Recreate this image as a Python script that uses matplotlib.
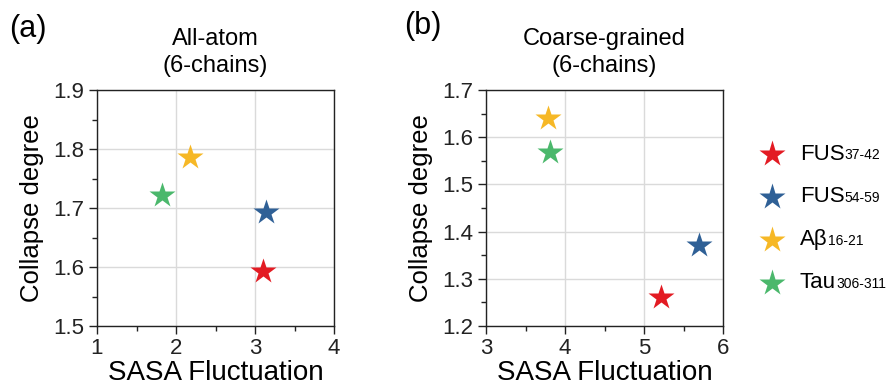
#!/usr/bin/env python3
# -*- coding: utf-8 -*-
"""
Collapse degree against SASA fluctuation for all-atom and
coarse-grained 6-chain simulations.
"""

import matplotlib.pyplot as plt
from matplotlib.ticker import MultipleLocator

plt.rcParams["font.family"] = ["Liberation Sans", "DejaVu Sans"]

peptides = ["FUS", "FUS", "A\u03b2", "Tau"]
residues = ["37-42", "54-59", "16-21", "306-311"]
colours = ["#e31b23", "#2f6096", "#f6b826", "#4bb86c"]

# All-atom values
aa_sasa = [3.10, 3.14, 2.18, 1.82]
aa_collapse = [1.593, 1.693, 1.786, 1.722]

# Coarse-grained values
cg_sasa = [5.22, 5.70, 3.78, 3.81]
cg_collapse = [1.262, 1.372, 1.640, 1.569]

panels = [
    ("(a)", "All-atom\n(6-chains)", aa_sasa, aa_collapse, (1, 4), (1.5, 1.9)),
    ("(b)", "Coarse-grained\n(6-chains)", cg_sasa, cg_collapse, (3, 6), (1.2, 1.7)),
]

W, H = 890, 390
fig = plt.figure(figsize=(W / 100, H / 100), dpi=100)
lefts = [97, 486]
tag_pos = [(28, 29), (423, 26)]

for left, tpos, (tag, title, x, y, xlim, ylim) in zip(lefts, tag_pos, panels):
    ax = fig.add_axes([left / W, 1 - 326 / H, 237 / W, 236 / H])
    ax.grid(True, color="#dadada", lw=1.0, zorder=0)
    ax.set_axisbelow(True)
    for xi, yi, c in zip(x, y, colours):
        ax.plot(xi, yi, marker="*", ms=19, color=c, mec="none", zorder=3)

    ax.set_xlim(xlim)
    ax.set_ylim(ylim)
    ax.xaxis.set_major_locator(MultipleLocator(1))
    ax.xaxis.set_minor_locator(MultipleLocator(0.5))
    ax.yaxis.set_major_locator(MultipleLocator(0.1))
    ax.yaxis.set_minor_locator(MultipleLocator(0.05))
    ax.tick_params(which="major", length=6, width=1, labelsize=16,
                   colors="#222222", pad=3)
    ax.tick_params(which="minor", length=3.5, width=1, colors="#222222")
    ax.xaxis.set_major_formatter(plt.FuncFormatter(lambda v, p: "%d" % v))
    ax.yaxis.set_major_formatter(plt.FuncFormatter(lambda v, p: "%.1f" % v))
    for sp in ax.spines.values():
        sp.set_linewidth(1.0)
        sp.set_color("#222222")

    ax.set_xlabel("SASA Fluctuation", fontsize=20, labelpad=0)
    ax.set_ylabel("Collapse degree", fontsize=18.5, labelpad=7)
    ax.set_title(title, fontsize=17, pad=13, linespacing=1.32)
    fig.text(tpos[0] / W, 1 - tpos[1] / H, tag, fontsize=22,
             ha="center", va="center")

# Legend drawn by hand so that the residue ranges can sit as subscripts
lax = fig.add_axes([0, 0, 1, 1])
lax.set_xlim(0, W)
lax.set_ylim(H, 0)
lax.axis("off")
rows = [154, 197, 240, 283]
for yr, name, res, c in zip(rows, peptides, residues, colours):
    lax.plot(772, yr, marker="*", ms=20, color=c, mec="none")
    t = lax.text(800, yr, name, fontsize=16, va="center", ha="left")
    lax.annotate(res, xy=(1.0, 0.1), xycoords=t, fontsize=10,
                 va="bottom", ha="left")

fig.savefig("out.png", dpi=100)
